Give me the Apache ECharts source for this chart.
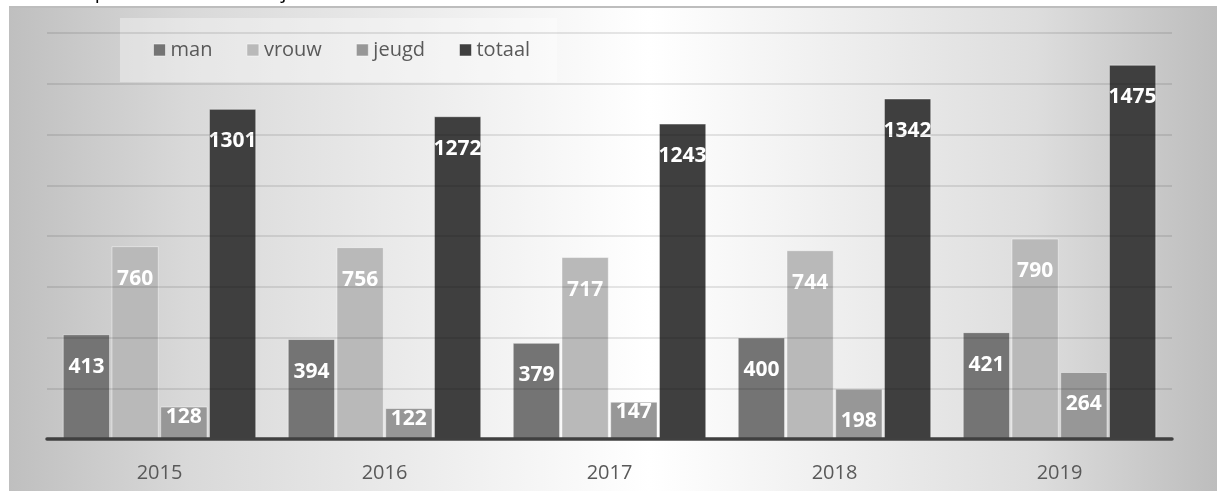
<!DOCTYPE html>
<html>
<head>
<meta charset="utf-8">
<script src="https://cdn.jsdelivr.net/npm/echarts@6/dist/echarts.min.js"></script>
<style>
html,body{margin:0;padding:0;background:#fff;}
#c{width:1217px;height:491px;}
</style>
</head>
<body>
<div id="c"></div>
<script>
const categories = ['2015', '2016', '2017', '2018', '2019'];
const man    = [413, 394, 379, 400, 421];
const vrouw  = [760, 756, 717, 744, 790];
const jeugd  = [128, 122, 147, 198, 264];
const totaal = [1301, 1272, 1243, 1342, 1475];
const seriesNames = ['man', 'vrouw', 'jeugd', 'totaal'];
const yMin = 0, yMax = 1600, yInterval = 200;
const titleText = 'Ledenrepresentatie over de jaren 2015 t/m 2019';

const colors = ['#747474', '#b9b9b9', '#979797', '#3f3f3f'];
const FONT = '"Open Sans", "Noto Sans", sans-serif';

function makeData(arr) {
  return arr.map(v => ({
    value: v,
    label: { distance: v < 180 ? 0 : 22 }
  }));
}

const seriesData = [man, vrouw, jeugd, totaal];

const chart = echarts.init(document.getElementById('c'), null, { renderer: 'canvas' });
chart.setOption({
  animation: false,
  textStyle: { fontFamily: FONT },
  graphic: [
    {
      type: 'rect',
      left: 9, top: 7, z: -10, silent: true,
      shape: { width: 1208, height: 484 },
      style: {
        fill: {
          type: 'linear', x: 0, y: 0, x2: 1, y2: 0,
          colorStops: [
            { offset: 0, color: '#bfbfbf' },
            { offset: 0.15, color: '#d9d9d9' },
            { offset: 0.53, color: '#ffffff' },
            { offset: 0.85, color: '#dddddd' },
            { offset: 1, color: '#bdbdbd' }
          ]
        }
      }
    },
    {
      type: 'rect', left: 9, top: 6, z: -9, silent: true,
      shape: { width: 1208, height: 2 },
      style: { fill: '#bdbdbd' }
    },
    {
      type: 'text', left: 18, top: -18, silent: true,
      style: { text: titleText, font: '20px ' + FONT, fill: '#000' }
    }
  ],
  legend: {
    data: seriesNames,
    left: 120, top: 18,
    padding: [22, 27, 22, 33],
    backgroundColor: 'rgba(255,255,255,0.35)',
    itemWidth: 12, itemHeight: 12, itemGap: 34,
    icon: 'rect',
    textStyle: { fontSize: 20, color: '#595959', fontFamily: FONT, padding: [2, 0, 0, 0] },
    itemStyle: { borderColor: 'rgba(255,255,255,0.5)', borderWidth: 1 }
  },
  grid: { left: 47, right: 45, top: 33, bottom: 52, containLabel: false },
  xAxis: {
    type: 'category',
    data: categories,
    z: 6,
    axisLine: { show: true, lineStyle: { color: '#404040', width: 3.5 } },
    axisTick: { show: false },
    axisLabel: { fontSize: 20, color: '#595959', margin: 24, fontFamily: FONT },
    splitLine: { show: false }
  },
  yAxis: {
    type: 'value',
    min: yMin, max: yMax, interval: yInterval,
    z: 5,
    axisLine: { show: false },
    axisTick: { show: false },
    axisLabel: { show: false },
    splitLine: { show: true, lineStyle: { color: 'rgba(0,0,0,0.13)', width: 1.5 } }
  },
  series: seriesNames.map((name, i) => ({
    name: name,
    type: 'bar',
    data: makeData(seriesData[i]),
    barCategoryGap: '14%',
    barGap: '3%',
    itemStyle: { color: colors[i], borderColor: 'rgba(255,255,255,0.45)', borderWidth: 1 },
    label: {
      show: true,
      position: 'insideTop',
      color: '#ffffff',
      fontWeight: 'bold',
      fontSize: 21,
      fontFamily: FONT
    }
  }))
});
</script>
</body>
</html>
